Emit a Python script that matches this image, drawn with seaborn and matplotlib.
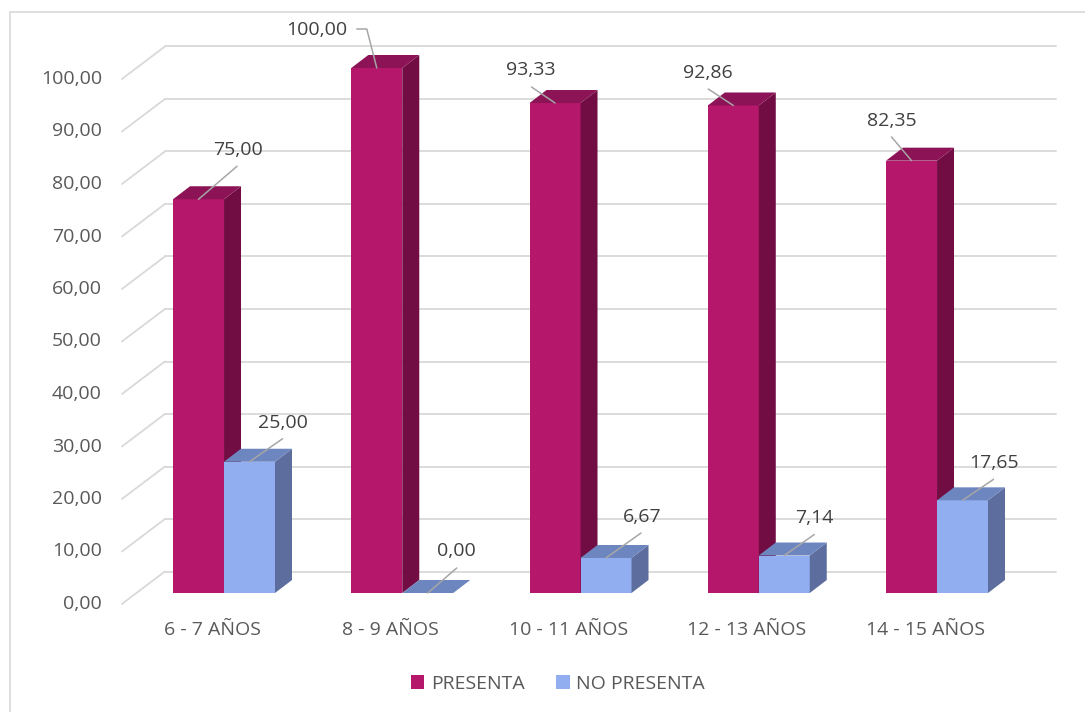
import matplotlib
matplotlib.use("Agg")
import numpy as np
import pandas as pd
import matplotlib.pyplot as plt
import seaborn as sns
from matplotlib.patches import Polygon, Patch
from matplotlib.lines import Line2D

# --- Datos ---
grupos = ["6 - 7 AÑOS", "8 - 9 AÑOS", "10 - 11 AÑOS", "12 - 13 AÑOS", "14 - 15 AÑOS"]
series = ["PRESENTA", "NO PRESENTA"]
presenta = [75.00, 100.00, 93.33, 92.86, 82.35]
no_presenta = [25.00, 0.00, 6.67, 7.14, 17.65]
y_ticks = list(range(0, 101, 10))

# --- Estilo ---
# (frente, lateral, tapa)
colores = {
    "PRESENTA": ("#B5186B", "#720D44", "#8B1356"),
    "NO PRESENTA": ("#91AEF0", "#5D6E9E", "#6E86BF"),
}
GRID = "#d9d9d9"
TXT = "#595959"
FS = 14

# desplazamientos de las etiquetas en px (linea guia, centro del texto)
offs_presenta = [
    ([(0, 0), (38.5, 33)], (39.5, 49)),
    ([(0, 0), (-10, 39), (-20, 39)], (-60, 37.5)),
    ([(0, 0), (-23.5, 16)], (-24.5, 33)),
    ([(0, 0), (-25, 16.5)], (-25, 32.5)),
    ([(0, 0), (-20, 23.7)], (-20, 39.7)),
]
offs_no_presenta = [
    ([(0, 0), (33, 23)], (33, 39)),
    ([(0, 0), (29, 25)], (29, 42)),
    ([(0, 0), (35, 25)], (36, 41)),
    ([(0, 0), (30, 21)], (30, 38)),
    ([(0, 0), (31, 21)], (31, 37)),
]

sns.set_style("white")
plt.rcParams["font.family"] = ["Open Sans", "DejaVu Sans"]

W, H = 1085, 712
fig = plt.figure(figsize=(W / 100, H / 100), dpi=100)
ax = fig.add_axes([134.9 / W, 119 / H, 891.25 / W, 525 / H])

df = pd.DataFrame({
    "grupo": grupos * 2,
    "valor": presenta + no_presenta,
    "serie": [series[0]] * len(grupos) + [series[1]] * len(grupos),
})
sns.barplot(data=df, x="grupo", y="valor", hue="serie", hue_order=series,
            palette=[colores[s][0] for s in series], saturation=1,
            width=0.572, gap=0, legend=False, linewidth=0, ax=ax)
ax.set_xlim(-0.5, 4.5)
ax.set_ylim(0, 100)

# px -> unidades de datos
FX = 1 / 178.25
FY = 100 / 525

# paredes / lineas de cuadricula en perspectiva
back = (30 * FX, 21.5 * FY)
front = (-13 * FX, -11 * FY)
for v in y_ticks:
    ax.plot([-0.5 + back[0], 4.5 + back[0]], [v + back[1]] * 2,
            color=GRID, lw=1.3, zorder=0, clip_on=False)
    ax.plot([-0.5 + front[0], -0.5 + back[0]], [v + front[1], v + back[1]],
            color=GRID, lw=1.3, zorder=0, clip_on=False)
    ax.text(-0.5 + front[0] - 20 * FX, v + front[1],
            f"{v:.2f}".replace(".", ","), ha="right", va="center",
            fontsize=FS, color=TXT)

for i, g in enumerate(grupos):
    ax.text(i + front[0] + 1 * FX, front[1] - 26 * FY, g, ha="center",
            va="center", fontsize=FS, color=TXT)

# caras laterales y superiores de las barras
dx, dy = 17 * FX, 13 * FY
n = len(grupos)
for k, p in enumerate(ax.patches[:2 * n]):
    s = series[k // n]
    z = 2 + k // n
    p.set_zorder(z)
    p.set_clip_on(False)
    x0, w, h = p.get_x(), p.get_width(), p.get_height()
    x1 = x0 + w
    ax.add_patch(Polygon([(x1, 0), (x1 + dx, dy), (x1 + dx, h + dy), (x1, h)],
                         closed=True, facecolor=colores[s][1], lw=0, zorder=z,
                         clip_on=False))
    ax.add_patch(Polygon([(x0, h), (x0 + dx, h + dy), (x1 + dx, h + dy), (x1, h)],
                         closed=True, facecolor=colores[s][2], lw=0, zorder=z,
                         clip_on=False))

    vals = presenta if k // n == 0 else no_presenta
    offs = offs_presenta if k // n == 0 else offs_no_presenta
    linea, txt = offs[k % n]
    cx = x0 + w / 2
    ax.plot([cx + a * FX for a, b in linea], [h + b * FY for a, b in linea],
            color="#a6a6a6", lw=1.1, zorder=5, clip_on=False)
    ax.text(cx + txt[0] * FX, h + txt[1] * FY,
            f"{vals[k % n]:.2f}".replace(".", ","), ha="center", va="center",
            fontsize=FS, color="#404040", zorder=6)

ax.set_xticks([])
ax.set_yticks([])
ax.set_xlabel("")
ax.set_ylabel("")
sns.despine(ax=ax, left=True, bottom=True)
ax.patch.set_alpha(0)

# borde del area del grafico
fig.add_artist(Line2D([9.5 / W, 9.5 / W], [0, 1 - 12 / H], transform=fig.transFigure,
                      color=GRID, lw=1.2))
fig.add_artist(Line2D([9.5 / W, 1], [1 - 12 / H, 1 - 12 / H], transform=fig.transFigure,
                      color=GRID, lw=1.2))

handles = [Patch(facecolor=colores[s][0], lw=0) for s in series]
leg = fig.legend(handles, series, loc="center", bbox_to_anchor=(558 / W, 28 / H),
                 ncol=2, frameon=False, handlelength=0.7, handleheight=0.7,
                 handletextpad=0.35, columnspacing=1.6, fontsize=FS)
for t in leg.get_texts():
    t.set_color(TXT)

fig.savefig("out.png", dpi=100)
